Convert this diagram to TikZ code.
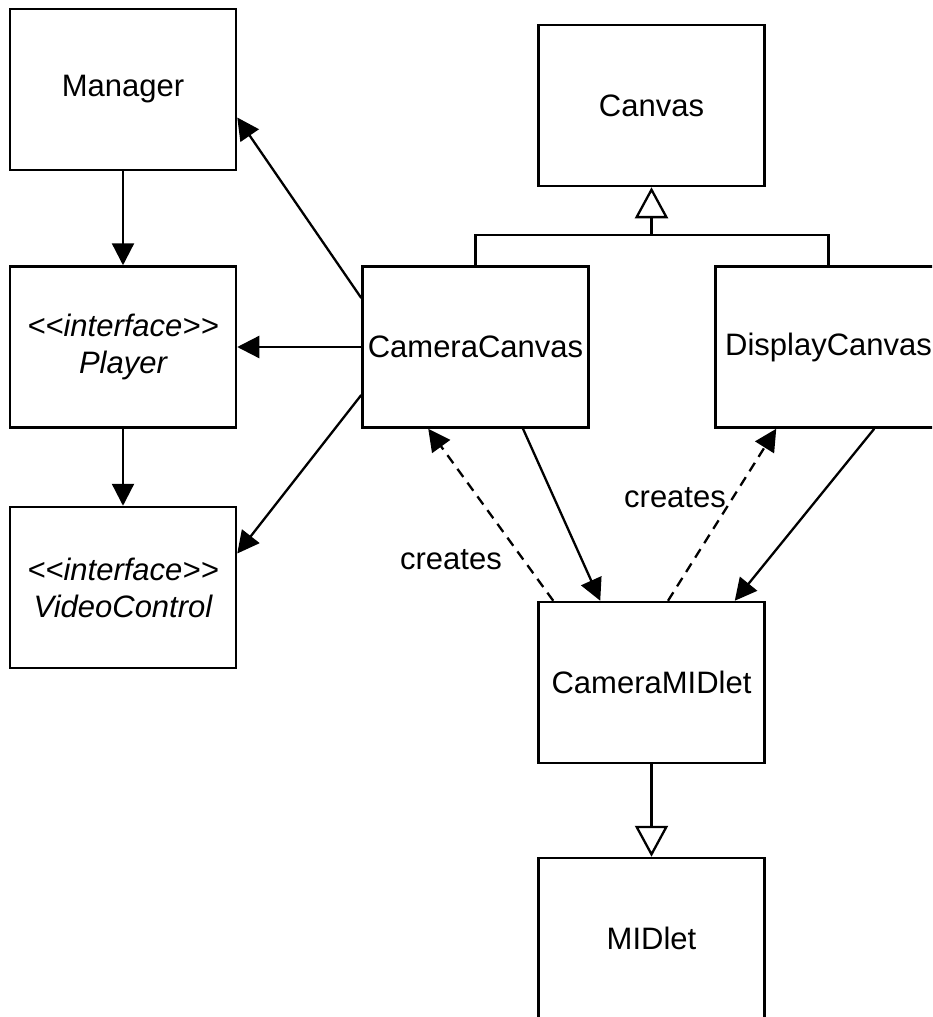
\documentclass[tikz,border=0pt]{standalone}
\usepackage{fontspec}
\setmainfont{Liberation Sans}
\usetikzlibrary{arrows.meta}
\begin{document}
\begin{tikzpicture}[x=1pt,y=-1pt,
  cls/.style={draw, line width=2.5pt, minimum width=226pt, minimum height=161pt, inner sep=0pt,
    font=\fontsize{31}{37}\selectfont, align=center},
  assoc/.style={line width=2.3pt, -{Triangle[length=22pt,width=22pt]}},
  dep/.style={assoc, dash pattern=on 10pt off 7pt},
  gen/.style={line width=2.3pt, -{Triangle[open,length=31pt,width=33pt]}},
  plain/.style={line width=2.3pt},
  lbl/.style={font=\fontsize{31}{37}\selectfont, anchor=base, inner sep=0pt}]
\useasboundingbox (0,0) rectangle (932,1017);
\clip (0,0) rectangle (932,1017);
\fill[white] (0,0) rectangle (932,1017);

\node[cls] (manager) at (123,89.5) {Manager};
\node[cls] (player) at (123,347) {\itshape <\kern0pt<interface>\kern0pt>\\\itshape Player};
\node[cls] (video) at (123,587.5) {\itshape <\kern0pt<interface>\kern0pt>\\\itshape VideoControl};
\node[cls] (canvas) at (651.5,105.5) {Canvas};
\node[cls] (cameracanvas) at (475.5,347) {CameraCanvas};
\node[cls] (displaycanvas) at (828.5,347) {DisplayCanvas};
\node[cls] (cameramidlet) at (651.5,682.5) {CameraMIDlet};
\node[cls] (midlet) at (651.5,938.5) {MIDlet};

% left-side associations
\draw[assoc] (manager.south) -- (player.north);
\draw[assoc] (player.south) -- (video.north);
\draw[assoc] ([yshift=49pt]cameracanvas.west) -- ([yshift=-28pt]manager.east);
\draw[assoc] (cameracanvas.west) -- (player.east);
\draw[assoc] ([yshift=-48pt]cameracanvas.west) -- ([yshift=34pt]video.east);

% generalization to Canvas
\path (canvas.south) ++(0,48) coordinate (junction);
\draw[plain] (cameracanvas.north) |- (junction) -| (displaycanvas.north);
\draw[gen] (junction) -- (canvas.south);

% generalization to MIDlet
\draw[gen] (cameramidlet.south) -- (midlet.north);

% CameraCanvas / CameraMIDlet
\draw[dep] ([xshift=16pt]cameramidlet.north west) -- ([xshift=67pt]cameracanvas.south west);
\draw[assoc] ([xshift=47.5pt]cameracanvas.south) -- ([xshift=63pt]cameramidlet.north west);

% DisplayCanvas / CameraMIDlet
\draw[dep] ([xshift=16.5pt]cameramidlet.north) -- ([xshift=62pt]displaycanvas.south west);
\draw[assoc] ([xshift=160pt]displaycanvas.south west) -- ([xshift=-31pt]cameramidlet.north east);

\node[lbl] (creates1) at (451,569) {creates};
\node[lbl] (creates2) at (675,507) {creates};
\end{tikzpicture}
\end{document}
